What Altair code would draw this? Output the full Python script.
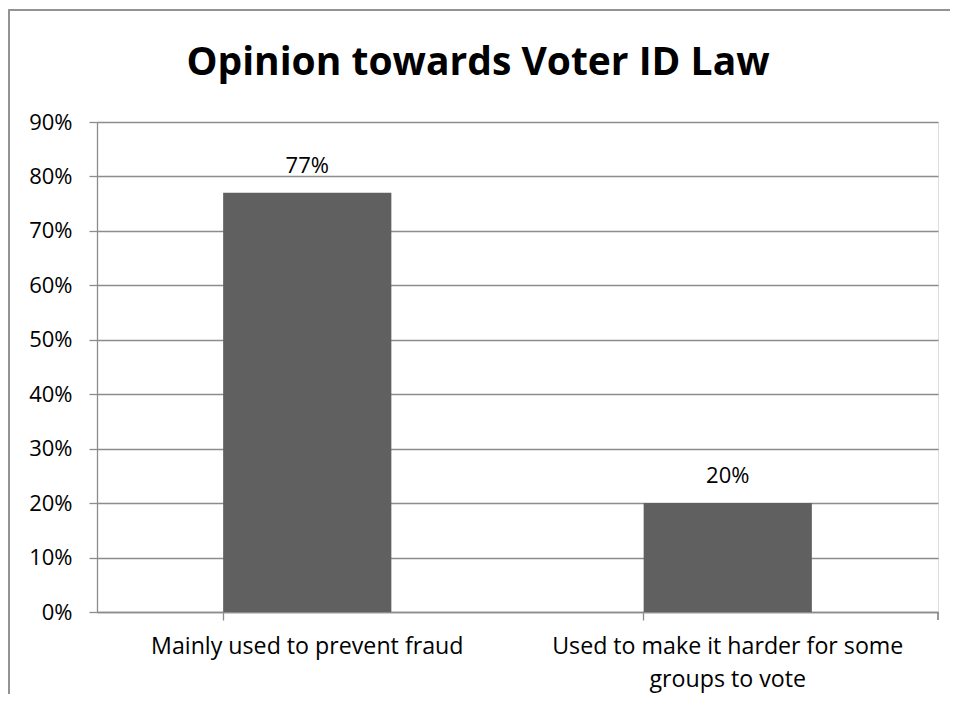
import altair as alt
import pandas as pd

categories = ["Mainly used to prevent fraud", "Used to make it harder for some groups to vote"]
values = [0.77, 0.20]
labels = ["77%", "20%"]
title_text = "Opinion towards Voter ID Law"

df = pd.DataFrame({"cat": categories, "val": values, "lab": labels})
tdf = pd.DataFrame({"t": [title_text]})

W, H = 841, 490
FONT = "Open Sans"
GRID = "#8c8c8c"

x_enc = alt.X(
    "cat:N",
    sort=categories,
    scale=alt.Scale(paddingInner=0.6, paddingOuter=0.3),
    axis=alt.Axis(
        title=None, labelAngle=0, labelFont=FONT, labelFontSize=23.2, labelColor="black",
        labelLimit=400, labelPadding=15, bandPosition=0, tickSize=8, tickColor=GRID,
        domainColor=GRID, tickWidth=1.3, domainWidth=1.3,
        labelExpr="datum.value == 'Used to make it harder for some groups to vote' ? ['Used to make it harder for some', 'groups to vote'] : datum.value",
        labelLineHeight=33,
    ),
)
y_enc = alt.Y(
    "val:Q",
    scale=alt.Scale(domain=[0, 0.9], nice=False),
    axis=alt.Axis(
        title=None, format=".0%", values=[i / 10 for i in range(10)], labelFont=FONT,
        labelFontSize=22, labelColor="black", labelPadding=17, tickSize=8, tickColor=GRID,
        domainColor=GRID, gridColor=GRID, gridWidth=1.3, tickWidth=1.3, domainWidth=1.3,
        grid=True, gridOpacity=1,
    ),
)

bars = alt.Chart(df).mark_bar(color="#606060").encode(x=x_enc, y=y_enc)
text = alt.Chart(df).mark_text(font=FONT, fontSize=22, color="black", dy=-20, baseline="alphabetic").encode(
    x=alt.X("cat:N", sort=categories), y="val:Q", text="lab:N"
)
end_tick = alt.Chart(df).mark_rule(color=GRID, strokeWidth=1.3).encode(
    x=alt.value(W), y=alt.value(H), y2=alt.value(H + 8)
)
border = alt.Chart(df).mark_rect(fill=None, stroke=GRID, strokeWidth=1.5, clip=False).encode(
    x=alt.value(-88), x2=alt.value(900), y=alt.value(-112), y2=alt.value(700)
)
title = alt.Chart(tdf).mark_text(
    font=FONT, fontSize=39, fontWeight="bold", color="black", baseline="alphabetic", align="center"
).encode(x=alt.value(381), y=alt.value(-47), text="t:N")

chart = (
    alt.layer(border, bars, text, end_tick, title)
    .properties(
        width=W, height=H,
        autosize=alt.AutoSizeParams(type="none"),
        padding={"left": 89, "top": 114, "right": 12, "bottom": 82},
    )
    .configure_view(stroke=None)
    .configure(background="white")
)

chart.save("out.html", embed_options={"renderer": "svg", "actions": False})
